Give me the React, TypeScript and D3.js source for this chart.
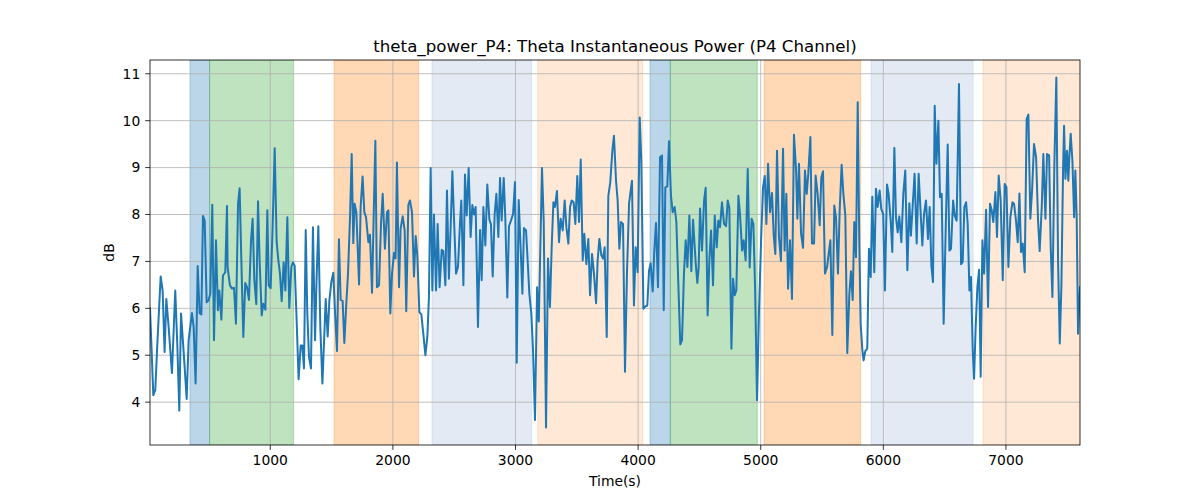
import React from "react";
import * as d3 from "d3";

const times: number[] = [
  19, 46, 62, 79, 106, 122, 138, 152, 171, 198, 225, 242, 258, 272, 296, 318, 334, 361, 375, 391,
  408, 424, 438, 451, 465, 481, 497, 511, 527, 541, 557, 573, 584, 601, 614, 633, 647,
  652, 671, 688, 704, 720, 737, 750, 764, 780, 796, 810, 826, 843, 856, 870, 886, 900, 913, 930,
  943, 960, 976, 987, 1003, 1019, 1036, 1052, 1066, 1079, 1093, 1109, 1123, 1139, 1155, 1172,
  1185, 1199, 1215, 1231, 1248, 1261, 1275, 1289, 1302, 1316, 1332, 1348, 1365, 1378, 1392, 1408,
  1425, 1438, 1452, 1468, 1482, 1498, 1514, 1528, 1544, 1560, 1574, 1590, 1604, 1620, 1634, 1650,
  1664, 1677, 1688, 1702, 1724, 1737, 1753, 1767, 1781, 1800, 1813, 1830, 1843, 1857, 1870, 1887,
  1903, 1917, 1935, 1952, 1963, 1979, 1993, 2009, 2022, 2033, 2050, 2063, 2080, 2096, 2109, 2126,
  2139, 2156, 2172, 2186, 2199, 2216, 2232, 2248, 2265, 2281, 2294, 2308, 2322, 2335, 2352, 2365,
  2381, 2398, 2411, 2428, 2441, 2457, 2471, 2485, 2498, 2515, 2531, 2547, 2558, 2575, 2588, 2602,
  2618, 2634, 2648, 2662, 2675, 2694, 2711, 2724, 2738, 2754, 2770, 2787, 2800, 2814, 2830, 2844,
  2860, 2874, 2887, 2904, 2917, 2933, 2947, 2963, 2980, 2996, 3010, 3026, 3040, 3056, 3069, 3086,
  3099, 3113, 3129, 3143, 3159, 3176, 3190, 3216, 3230, 3249, 3265, 3281, 3295, 3309, 3322, 3338,
  3355, 3368, 3385, 3401, 3415, 3431, 3445, 3458, 3474, 3488, 3504, 3518, 3532, 3548, 3561, 3578,
  3594, 3608, 3624, 3640, 3657, 3670, 3684, 3700, 3714, 3727, 3744, 3757, 3773, 3790, 3803, 3820,
  3833, 3847, 3860, 3877, 3893, 3909, 3926, 3950, 3966, 3980, 3996, 4013, 4026, 4043, 4059, 4075,
  4089, 4102, 4119, 4132, 4146, 4162, 4179, 4195, 4209, 4222, 4238, 4252, 4268, 4282, 4298, 4312,
  4328, 4344, 4358, 4374, 4388, 4402, 4418, 4434, 4448, 4470, 4483, 4494, 4505, 4521, 4538, 4551,
  4567, 4581, 4595, 4611, 4625, 4641, 4654, 4668, 4684, 4701, 4717, 4731, 4744, 4761, 4774, 4788,
  4801, 4818, 4831, 4848, 4861, 4877, 4894, 4910, 4926, 4940, 4954, 4970, 4986, 5003, 5019, 5033,
  5046, 5060, 5076, 5092, 5106, 5119, 5133, 5149, 5165, 5182, 5195, 5209, 5223, 5239, 5255, 5271,
  5288, 5299, 5312, 5329, 5345, 5361, 5375, 5388, 5405, 5418, 5435, 5448, 5464, 5481, 5494, 5508,
  5524, 5541, 5554, 5568, 5584, 5600, 5614, 5630, 5644, 5660, 5674, 5690, 5706, 5723, 5736, 5750,
  5763, 5777, 5791, 5804, 5815, 5829, 5839, 5853, 5869, 5883, 5897, 5910, 5926, 5940, 5954, 5970,
  5983, 5999, 6013, 6030, 6043, 6060, 6073, 6090, 6103, 6117, 6130, 6147, 6163, 6179, 6196, 6212,
  6225, 6242, 6255, 6272, 6288, 6302, 6318, 6332, 6348, 6364, 6378, 6392, 6405, 6419, 6433, 6449,
  6462, 6476, 6492, 6509, 6525, 6539, 6552, 6569, 6582, 6598, 6617, 6634, 6647, 6661, 6675, 6688,
  6702, 6715, 6729, 6740, 6753, 6767, 6781, 6794, 6808, 6822, 6838, 6854, 6870, 6884, 6897, 6914,
  6927, 6941, 6957, 6974, 6990, 7004, 7020, 7036, 7053, 7066, 7082, 7096, 7110, 7123, 7137, 7153,
  7169, 7183, 7199, 7213, 7229, 7246, 7262, 7275, 7292, 7305, 7322, 7335, 7352, 7365, 7379, 7395,
  7411, 7425, 7439, 7452, 7466, 7474, 7485, 7498, 7509, 7517, 7528, 7542, 7556, 7566, 7577, 7588,
  7604,
];

const powerDb: number[] = [
  6.0, 4.15, 4.26, 5.25, 6.68, 6.38, 5.07, 6.2, 5.6, 4.62, 6.38, 5.2, 3.82, 5.89, 4.97, 4.07, 5.32, 5.9, 5.6, 4.4,
  6.9, 5.89, 5.87, 7.97, 7.87, 6.13, 6.17, 6.31, 8.21, 5.32, 7.45, 5.96, 6.38, 5.76, 6.7, 6.77, 8.18,
  6.88, 6.49, 6.42, 6.44, 5.67, 8.23, 8.56, 7.02, 5.39, 6.54, 6.45, 6.18, 7.45, 7.91, 6.6, 6.09, 8.28, 7.02, 5.85,
  6.1, 5.97, 8.09, 6.49, 6.43, 7.73, 9.41, 7.41, 7.02, 6.74, 6.15, 6.98, 6.38, 7.94, 6.01, 6.88,
  6.98, 6.91, 5.74, 4.49, 5.21, 5.21, 4.72, 7.67, 5.89, 4.96, 4.72, 7.73, 5.32, 6.67, 7.75, 5.6,
  4.4, 5.25, 6.2, 5.4, 6.17, 6.56, 6.76, 5.92, 5.09, 7.47, 6.18, 6.16, 5.26, 6.1, 6.74, 7.91,
  9.29, 7.39, 8.23, 8.05, 6.51, 8.16, 8.81, 8.05, 7.94, 7.41, 7.57, 6.33, 7.94, 9.57, 6.45, 6.49,
  7.8, 8.44, 7.27, 8.05, 8.09, 5.89, 6.74, 7.18, 7.06, 9.11, 6.45, 7.7, 7.96, 7.66, 5.94, 8.2,
  8.3, 8.05, 6.68, 7.54, 7.13, 5.92, 5.87, 5.46, 5.0, 5.39, 6.24, 8.99, 6.38, 8.0, 6.38, 7.8,
  6.45, 7.25, 7.22, 6.49, 8.51, 6.63, 7.73, 8.92, 7.94, 6.74, 6.88, 7.8, 8.3, 6.49, 8.85, 7.98,
  8.99, 7.52, 8.2, 8.0, 8.16, 5.6, 7.67, 6.6, 8.16, 7.34, 8.64, 7.89, 7.79, 6.68, 8.01, 8.44,
  7.52, 8.78, 7.87, 8.78, 7.91, 6.23, 7.75, 7.87, 8.01, 8.69, 4.84, 8.31, 7.41, 6.31, 7.71, 7.66,
  7.02, 6.31, 5.89, 5.11, 3.62, 6.45, 5.72, 8.99, 7.87, 3.46, 7.06, 6.03, 7.3, 8.26, 8.16, 8.5,
  7.41, 7.91, 7.66, 8.3, 7.73, 7.38, 8.16, 8.3, 8.26, 7.8, 8.82, 7.84, 9.17, 7.02, 7.59, 6.94,
  7.48, 6.28, 7.16, 6.74, 6.11, 7.02, 7.48, 7.13, 7.06, 7.3, 5.39, 8.39, 8.69, 9.36, 9.68, 8.72,
  8.3, 7.27, 7.84, 7.8, 4.65, 6.74, 8.23, 8.72, 6.06, 7.3, 6.77, 10.07, 9.15, 5.99, 6.04, 6.06,
  6.8, 6.96, 6.36, 7.23, 7.82, 6.45, 9.22, 9.26, 5.96, 8.58, 8.6, 9.56, 8.4, 8.05, 8.16, 7.84,
  6.52, 5.23, 5.32, 6.74, 7.45, 6.88, 7.98, 6.79, 7.89, 6.95, 6.54, 6.88, 8.13, 7.23, 8.3, 8.57,
  5.85, 7.02, 7.66, 6.49, 7.98, 7.3, 7.87, 7.73, 8.26, 7.8, 7.75, 8.3, 8.14, 5.14, 6.63, 6.28,
  6.38, 8.4, 8.01, 7.23, 7.45, 7.02, 8.97, 6.87, 7.91, 7.8, 6.45, 4.04, 5.96, 7.45, 8.58, 8.82,
  7.8, 9.08, 8.05, 8.46, 7.55, 7.16, 9.36, 7.52, 7.01, 9.4, 7.23, 8.44, 6.42, 7.45, 6.2, 9.7,
  8.97, 7.91, 9.08, 7.59, 7.29, 8.94, 8.44, 8.87, 9.65, 7.38, 7.38, 8.83, 8.44, 7.77, 8.79, 8.92,
  6.74, 6.88, 7.16, 7.45, 5.43, 8.19, 7.94, 6.74, 8.09, 9.06, 8.44, 7.98, 5.05, 6.31, 6.79, 6.18,
  7.84, 7.09, 10.39, 7.38, 5.67, 5.11, 4.89, 5.09, 5.14, 7.27, 6.67, 8.38, 6.77, 8.55, 8.16, 8.51,
  8.12, 8.01, 6.38, 8.64, 8.44, 7.87, 7.2, 9.42, 7.94, 7.62, 7.96, 7.41, 8.44, 8.94, 6.81, 8.24,
  7.55, 8.3, 8.87, 7.38, 8.87, 8.16, 7.34, 8.01, 8.3, 7.48, 8.16, 6.9, 6.56, 10.32, 9.08, 10.0,
  8.37, 8.44, 5.67, 7.73, 9.49, 7.23, 7.27, 8.3, 7.98, 7.87, 10.78, 6.94, 6.99, 8.16, 8.26, 7.8,
  6.38, 6.67, 5.11, 4.5, 5.6, 6.45, 6.82, 4.54, 7.45, 6.74, 8.1, 6.03, 8.23, 8.09, 7.84, 8.48,
  7.52, 8.83, 8.3, 6.6, 8.65, 8.58, 6.88, 7.94, 8.26, 8.23, 7.87, 7.41, 8.45, 7.2, 7.38, 6.77,
  10.04, 10.13, 7.91, 8.51, 9.5, 9.22, 7.87, 7.22, 8.16, 9.29, 7.91, 9.29, 9.26, 7.3, 6.24, 9.08,
  10.92, 7.02, 5.25, 6.45, 8.97, 9.89, 8.76, 9.36, 8.72, 9.22, 9.72, 9.15, 7.94, 8.94, 7.94, 5.46,
  6.45,
];

const spanStarts: number[] = [345, 505, 1520, 2319, 3181, 4097, 4263, 5027, 5900, 6813];
const spanEnds: number[] = [505, 1190, 2210, 3132, 4037, 4263, 4972, 5815, 6732, 7604];
const spanColors: string[] = [
  "#1f77b4", "#2ca02c", "#ff7f0e", "#b0c4de", "#ff7f0e",
  "#1f77b4", "#2ca02c", "#ff7f0e", "#b0c4de", "#ff7f0e",
];
const spanAlphas: number[] = [0.3, 0.3, 0.3, 0.35, 0.17, 0.3, 0.3, 0.3, 0.35, 0.17];

const xTicks: number[] = [1000, 2000, 3000, 4000, 5000, 6000, 7000];
const yTicks: number[] = [4, 5, 6, 7, 8, 9, 10, 11];

const W = 1200;
const H = 500;
const left = 150;
const right = 1080;
const top = 60;
const bottom = 445;
const FONT = "DejaVu Sans, sans-serif";

export default function App() {
  const xMin = d3.min(times) as number;
  const xMax = d3.max(times) as number;
  const yMin = d3.min(powerDb) as number;
  const yMax = d3.max(powerDb) as number;
  const pad = (yMax - yMin) * 0.05;
  const x = d3.scaleLinear().domain([xMin, xMax]).range([left, right]);
  const y = d3.scaleLinear().domain([yMin - pad, yMax + pad]).range([bottom, top]);

  const pts: [number, number][] = times.map((t, i) => [t, powerDb[i]]);
  const line = d3
    .line<[number, number]>()
    .x((d) => x(d[0]))
    .y((d) => y(d[1]));

  const tickLen = 4.86;
  const tickPad = 4.86;
  const fs = 13.89;

  return (
    <svg
      width={W}
      height={H}
      style={{ position: "absolute", left: 0, top: 0, background: "#fff" }}
      fontFamily={FONT}
    >
      <rect x={0} y={0} width={W} height={H} fill="#fff" />
      <defs>
        <clipPath id="plotclip">
          <rect x={left} y={top} width={right - left} height={bottom - top} />
        </clipPath>
      </defs>
      <g clipPath="url(#plotclip)">
        {spanStarts.map((s, i) => (
          <rect
            key={i}
            x={x(s)}
            y={top}
            width={x(spanEnds[i]) - x(s)}
            height={bottom - top}
            fill={spanColors[i]}
            fillOpacity={spanAlphas[i]}
            stroke={spanColors[i]}
            strokeOpacity={spanAlphas[i]}
            strokeWidth={1}
          />
        ))}
        {xTicks.map((t) => (
          <line key={"gx" + t} x1={x(t)} x2={x(t)} y1={top} y2={bottom} stroke="#b0b0b0" strokeWidth={0.8} />
        ))}
        {yTicks.map((t) => (
          <line key={"gy" + t} x1={left} x2={right} y1={y(t)} y2={y(t)} stroke="#b0b0b0" strokeWidth={0.8} />
        ))}
        <path d={line(pts) || ""} fill="none" stroke="#1f77b4" strokeWidth={2} strokeLinejoin="round" strokeLinecap="square" />
      </g>
      <rect x={left} y={top} width={right - left} height={bottom - top} fill="none" stroke="#000" strokeWidth={0.8} />
      {xTicks.map((t) => (
        <g key={"tx" + t}>
          <line x1={x(t)} x2={x(t)} y1={bottom} y2={bottom + tickLen} stroke="#000" strokeWidth={0.8} />
          <text x={x(t)} y={bottom + tickLen + tickPad + 10.6} fontSize={fs} textAnchor="middle" fill="#000">
            {t}
          </text>
        </g>
      ))}
      {yTicks.map((t) => (
        <g key={"ty" + t}>
          <line x1={left - tickLen} x2={left} y1={y(t)} y2={y(t)} stroke="#000" strokeWidth={0.8} />
          <text x={left - tickLen - tickPad} y={y(t)} dy="0.35em" fontSize={fs} textAnchor="end" fill="#000">
            {t}
          </text>
        </g>
      ))}
      <text x={(left + right) / 2} y={486} fontSize={fs} textAnchor="middle" fill="#000">
        Time(s)
      </text>
      <text
        transform={`translate(114, ${(top + bottom) / 2}) rotate(-90)`}
        fontSize={fs}
        textAnchor="middle"
        fill="#000"
      >
        dB
      </text>
      <text x={(left + right) / 2} y={52} fontSize={16.67} textAnchor="middle" fill="#000">
        theta_power_P4: Theta Instantaneous Power (P4 Channel)
      </text>
    </svg>
  );
}
